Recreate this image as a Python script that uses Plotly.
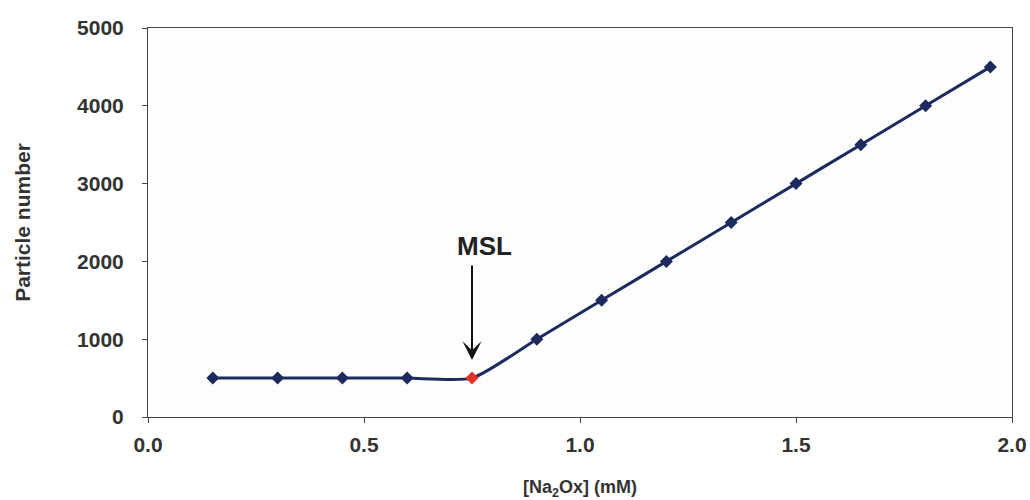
import plotly.graph_objects as go

conc = [0.15, 0.3, 0.45, 0.6, 0.75, 0.9, 1.05, 1.2, 1.35, 1.5, 1.65, 1.8, 1.95]
particles = [500, 500, 500, 500, 500, 1000, 1500, 2000, 2500, 3000, 3500, 4000, 4500]
msl_index = 4
msl_label_y = 2200
x_ticks = [0.0, 0.5, 1.0, 1.5, 2.0]
x_tick_labels = ["0.0", "0.5", "1.0", "1.5", "2.0"]
y_ticks = [0, 1000, 2000, 3000, 4000, 5000]

navy = "#1c2a5e"
colors = [navy] * len(conc)
colors[msl_index] = "#e8312a"
FONT = "Liberation Sans, Arial"

fig = go.Figure()
fig.add_trace(go.Scatter(
    x=conc, y=particles, mode="lines+markers",
    line=dict(color=navy, width=3, shape="spline", smoothing=0.6),
    marker=dict(symbol="diamond", size=10, color=colors, line=dict(width=0)),
    showlegend=False,
))

# arrow only
fig.add_annotation(
    x=conc[msl_index], y=particles[msl_index], text="",
    showarrow=True, arrowhead=3, arrowsize=1.6, arrowwidth=2, arrowcolor="#111",
    ax=0, ay=-114, standoff=18,
)
# label
fig.add_annotation(
    x=conc[msl_index], y=msl_label_y, text="<b>MSL</b>", showarrow=False,
    xshift=12, font=dict(family=FONT, size=26, color="#222"),
)

axis_font = dict(family=FONT, size=21, color="#333")
fig.update_layout(
    width=1030, height=500,
    margin=dict(l=148, r=18, t=28, b=83),
    paper_bgcolor="white", plot_bgcolor="#fdfdfd",
    font=dict(family=FONT, color="#333"),
    xaxis=dict(
        range=[0, 2], tickvals=x_ticks, ticktext=["<b>%s</b>" % t for t in x_tick_labels],
        ticks="outside", ticklen=5, tickcolor="#444", tickfont=axis_font, ticklabelstandoff=4,
        showgrid=False, zeroline=False, showline=True, linecolor="#444", linewidth=1, mirror=True,
        automargin=False,
        title=dict(text="<b>[Na<sub>2</sub>Ox] (mM)</b>", font=dict(family=FONT, size=18, color="#333"), standoff=26),
    ),
    yaxis=dict(
        range=[0, 5000], tickvals=y_ticks, ticktext=["<b>%d</b>" % t for t in y_ticks],
        ticks="outside", ticklen=5, tickcolor="#444", tickfont=axis_font, ticklabelstandoff=14,
        showgrid=False, zeroline=False, showline=True, linecolor="#444", linewidth=1, mirror=True,
        automargin=False,
        title=dict(text="<b>Particle number</b>", font=dict(family=FONT, size=21, color="#333"), standoff=40),
    ),
)

fig.write_html("out.html")
